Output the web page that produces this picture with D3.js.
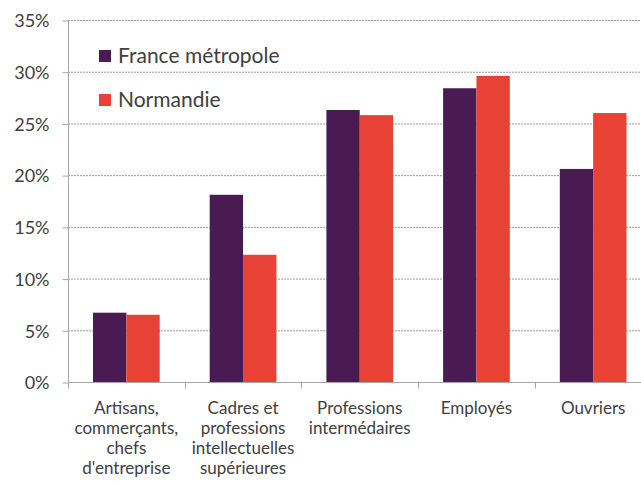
<!DOCTYPE html>
<html>
<head>
  <meta charset="utf-8">
  <script src="https://d3js.org/d3.v7.min.js"></script>
  <style>
    body { margin: 0; background: #fff; }
    text { font-family: Lato, "Open Sans", sans-serif; fill: #404040; }
  </style>
</head>
<body>
<script>
  // data (shares of employment, %)
  var categories = [
    ["Artisans,", "commerçants,", "chefs", "d'entreprise"],
    ["Cadres et", "professions", "intellectuelles", "supérieures"],
    ["Professions", "intermédaires"],
    ["Employés"],
    ["Ouvriers"]
  ];
  var seriesNames = ["France métropole", "Normandie"];
  var franceValues = [6.7, 18.1, 26.3, 28.4, 20.6];
  var normandieValues = [6.5, 12.3, 25.8, 29.6, 26.0];
  var yTicks = [0, 5, 10, 15, 20, 25, 30, 35];
  var colors = ["#4a1a53", "#e84236"];

  var width = 641, height = 485;
  var plotLeft = 68, plotTop = 20, plotH = 362, catW = 116.7;

  var svg = d3.select("body").append("svg")
    .attr("width", width)
    .attr("height", height);

  var x = d3.scaleBand()
    .domain(d3.range(categories.length))
    .range([plotLeft, plotLeft + catW * categories.length])
    .paddingInner(0).paddingOuter(0);
  var x1 = d3.scaleBand()
    .domain([0, 1])
    .range([0, x.bandwidth()])
    .paddingOuter(0.75).paddingInner(0);
  var y = d3.scaleLinear().domain([0, 35]).range([plotTop + plotH, plotTop]);

  /*
    gridlines
  */
  svg.append("g").selectAll("line")
    .data(yTicks.filter(function(d) { return d > 0; }))
    .join("line")
    .attr("x1", plotLeft).attr("x2", width)
    .attr("y1", function(d) { return y(d) + 0.5; })
    .attr("y2", function(d) { return y(d) + 0.5; })
    .attr("stroke", "#9a9a9a")
    .attr("stroke-width", 1)
    .attr("stroke-dasharray", "2,1");

  /*
    bars
  */
  var series = [franceValues, normandieValues];
  series.forEach(function(vals, s) {
    svg.append("g").selectAll("rect")
      .data(vals)
      .join("rect")
      .attr("x", function(d, i) { return x(i) + x1(s); })
      .attr("width", x1.bandwidth())
      .attr("y", function(d) { return y(d); })
      .attr("height", function(d) { return y(0) - y(d); })
      .attr("fill", colors[s]);
  });

  /*
    y axis
  */
  var yAxis = d3.axisLeft(y)
    .tickValues(yTicks)
    .tickFormat(function(d) { return d + "%"; })
    .tickSize(6)
    .tickPadding(13);
  var gy = svg.append("g")
    .attr("transform", "translate(" + (plotLeft + 0.5) + ",0.5)")
    .call(yAxis);
  gy.selectAll("line, path").attr("stroke", "#a6a6a6");
  gy.select(".domain").attr("d", "M0," + plotTop + "V" + (plotTop + plotH));
  gy.selectAll("text")
    .style("font-size", "18px")
    .attr("dy", "0.35em");

  /*
    x axis
  */
  var gx = svg.append("g")
    .attr("transform", "translate(0," + (plotTop + plotH + 0.5) + ")");
  gx.append("line")
    .attr("x1", plotLeft).attr("x2", width)
    .attr("stroke", "#a6a6a6");
  gx.selectAll(".tick")
    .data(d3.range(categories.length + 1))
    .join("line")
    .attr("class", "tick")
    .attr("x1", function(d) { return Math.round(plotLeft + d * catW) + 0.5; })
    .attr("x2", function(d) { return Math.round(plotLeft + d * catW) + 0.5; })
    .attr("y1", 0).attr("y2", 6)
    .attr("stroke", "#a6a6a6");

  gx.selectAll("text.cat")
    .data(categories)
    .join("text")
    .attr("class", "cat")
    .attr("text-anchor", "middle")
    .style("font-size", "17px")
    .each(function(lines, i) {
      d3.select(this).selectAll("tspan")
        .data(lines)
        .join("tspan")
        .attr("x", x(i) + x.bandwidth() / 2)
        .attr("y", function(d, j) { return 31 + j * 20; })
        .text(function(d) { return d; });
    });

  /*
    legend
  */
  var legend = svg.append("g");
  seriesNames.forEach(function(name, s) {
    legend.append("rect")
      .attr("x", 99).attr("y", 50 + s * 44)
      .attr("width", 12).attr("height", 12)
      .attr("fill", colors[s]);
    legend.append("text")
      .attr("x", 118).attr("y", 63 + s * 44)
      .style("font-size", "21px")
      .text(name);
  });
</script>
</body>
</html>
